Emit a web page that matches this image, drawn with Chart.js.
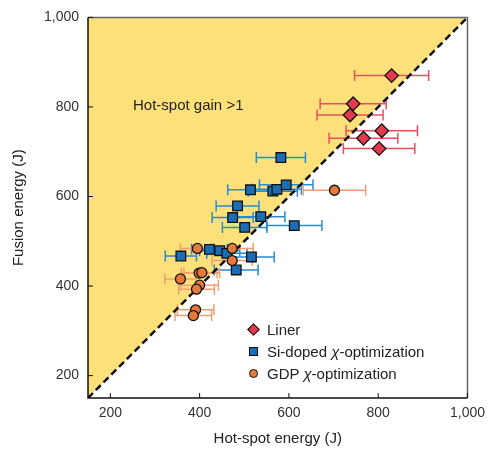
<!DOCTYPE html>
<html>
<head>
<meta charset="utf-8">
<script src="https://cdn.jsdelivr.net/npm/chart.js@4.4.0/dist/chart.umd.min.js"></script>
<style>
    body { margin: 0; background: #fff; font-family: "Liberation Sans", Arial, sans-serif; }
    #wrap { position: relative; width: 492px; height: 452px; }
    #chart { position: absolute; left: 0; top: 0; }
    .note { position: absolute; left: 133px; top: 96px; font-size: 15px; color: #222; }
    .legend { position: absolute; left: 246px; top: 319px; font-size: 15px; color: #222; line-height: 22px; }
    .legend div { position: relative; padding-left: 21px; white-space: nowrap; }
    .mk { position: absolute; box-sizing: border-box; border: 1.2px solid #111; }
    .mk.diamond { left: 3px; top: 6px; width: 9px; height: 9px; background: #e03a4e; transform: rotate(45deg); }
    .mk.square { left: 3px; top: 6px; width: 9px; height: 9px; background: #1b6eb5; }
    .mk.circle { left: 3px; top: 6px; width: 9px; height: 9px; border-radius: 50%; background: #e67a3c; }
</style>
</head>
<body>
<div id="wrap">
    <canvas id="chart" width="492" height="452"></canvas>
    <div class="note">Hot-spot gain &gt;1</div>
    <div class="legend">
        <div><span class="mk diamond"></span>Liner</div>
        <div><span class="mk square"></span>Si-doped <i>χ</i>-optimization</div>
        <div><span class="mk circle"></span>GDP <i>χ</i>-optimization</div>
    </div>
</div>
<script>
// axis range and ticks
const axisMin = 150;
const axisMax = 1000;
const tickValues = [200, 400, 600, 800, 1000];

// Liner shots
const linerX = [830, 744, 737, 808, 767, 802];
const linerY = [870, 807, 782, 747, 730, 707];
const linerErr = [83, 74, 74, 80, 77, 80];

// Si-doped chi-optimization
const siX = [582, 514, 564, 573, 594, 485, 474, 537, 501, 612, 358, 422, 445, 461, 516, 482];
const siY = [687, 615, 612, 616, 626, 579, 553, 555, 531, 535, 467, 482, 479, 473, 465, 436];
const siErr = [55, 51, 55, 55, 60, 48, 46, 54, 50, 62, 35, 40, 45, 45, 51, 49];

// GDP chi-optimization
const gdpX = [702, 395, 473, 473, 399, 405, 357, 400, 393, 391, 386];
const gdpY = [614, 484, 484, 457, 429, 430, 416, 402, 393, 347, 334];
const gdpErr = [70, 38, 47, 45, 40, 40, 35, 42, 40, 41, 41];

const colors = {
    gain: '#fce07a',
    red: '#e03a4e',
    redBar: '#e9505f',
    blue: '#1b6eb5',
    blueBar: '#2a8bcf',
    orange: '#e67a3c',
    orangeBar: '#f0a070',
    text: '#222'
};

const toPoints = (xs, ys) => xs.map((v, i) => ({ x: v, y: ys[i] }));
const diagonal = [{ x: axisMin, y: axisMin }, { x: axisMax, y: axisMax }];

// horizontal error bars, drawn just before the dashed diagonal
const barGroups = [
    { xs: siX, ys: siY, errs: siErr, color: colors.blueBar },
    { xs: gdpX, ys: gdpY, errs: gdpErr, color: colors.orangeBar },
    { xs: linerX, ys: linerY, errs: linerErr, color: colors.redBar }
];

const errorBars = {
    id: 'errorBars',
    beforeDatasetDraw(chart, args) {
        if (chart.data.datasets[args.index].label !== 'diagonal') return;
        const { ctx, scales: { x, y } } = chart;
        ctx.save();
        ctx.lineWidth = 1.5;
        barGroups.forEach(g => {
            ctx.strokeStyle = g.color;
            g.xs.forEach((v, i) => {
                const py = y.getPixelForValue(g.ys[i]);
                const x0 = x.getPixelForValue(v - g.errs[i]);
                const x1 = x.getPixelForValue(v + g.errs[i]);
                ctx.beginPath();
                ctx.moveTo(x0, py); ctx.lineTo(x1, py);
                ctx.moveTo(x0, py - 5.5); ctx.lineTo(x0, py + 5.5);
                ctx.moveTo(x1, py - 5.5); ctx.lineTo(x1, py + 5.5);
                ctx.stroke();
            });
        });
        ctx.restore();
    }
};

// frame with inward ticks
const frame = {
    id: 'frame',
    afterDatasetsDraw(chart) {
        const { ctx, chartArea: a, scales: { x, y } } = chart;
        ctx.save();
        ctx.lineWidth = 1.5;
        ctx.strokeStyle = '#666';
        ctx.beginPath();
        ctx.moveTo(a.left, a.top); ctx.lineTo(a.right, a.top); ctx.lineTo(a.right, a.bottom);
        ctx.stroke();
        ctx.strokeStyle = '#111';
        ctx.beginPath();
        ctx.moveTo(a.left, a.top); ctx.lineTo(a.left, a.bottom); ctx.lineTo(a.right, a.bottom);
        ctx.stroke();
        ctx.lineWidth = 1;
        ctx.beginPath();
        tickValues.forEach(v => {
            const px = x.getPixelForValue(v);
            ctx.moveTo(px, a.bottom); ctx.lineTo(px, a.bottom - 5);
            const py = y.getPixelForValue(v);
            ctx.moveTo(a.left, py); ctx.lineTo(a.left + 5, py);
        });
        ctx.stroke();
        ctx.restore();
    }
};

const tickFont = { family: '"Liberation Sans", Arial, sans-serif', size: 14 };
const titleFont = { family: '"Liberation Sans", Arial, sans-serif', size: 15 };
const setTicks = scale => { scale.ticks = tickValues.map(v => ({ value: v })); };

new Chart(document.getElementById('chart'), {
    type: 'scatter',
    data: {
        datasets: [
            { label: 'Liner', data: toPoints(linerX, linerY), pointStyle: 'rectRot', pointRadius: 6.8,
              backgroundColor: colors.red, borderColor: '#111', borderWidth: 1.3, order: 1 },
            { label: 'GDP', data: toPoints(gdpX, gdpY), pointStyle: 'circle', pointRadius: 5,
              backgroundColor: colors.orange, borderColor: '#111', borderWidth: 1.3, order: 2 },
            { label: 'Si-doped', data: toPoints(siX, siY), pointStyle: 'rect', pointRadius: 6.8,
              backgroundColor: colors.blue, borderColor: '#111', borderWidth: 1.3, order: 3 },
            { label: 'diagonal', data: diagonal, showLine: true, fill: false, borderColor: '#111',
              borderWidth: 2.5, borderDash: [7, 4], pointRadius: 0, order: 5 },
            { label: 'gain', data: diagonal, showLine: true, fill: 'end', backgroundColor: colors.gain,
              borderWidth: 0, pointRadius: 0, order: 10 }
        ]
    },
    options: {
        responsive: false,
        animation: false,
        layout: { padding: { left: 0, right: 22, top: 16, bottom: 0 } },
        plugins: { legend: { display: false }, tooltip: { enabled: false } },
        scales: {
            x: {
                type: 'linear', min: axisMin, max: axisMax,
                afterBuildTicks: setTicks,
                afterFit: s => { s.height = 54; },
                grid: { display: false, drawTicks: false },
                border: { display: false },
                ticks: { font: tickFont, color: '#333', padding: 7, maxRotation: 0,
                         callback: v => v.toLocaleString('en-US') },
                title: { display: true, text: 'Hot-spot energy (J)', font: titleFont, color: colors.text,
                         padding: { top: 0, bottom: 4 } }
            },
            y: {
                type: 'linear', min: axisMin, max: axisMax,
                afterBuildTicks: setTicks,
                afterFit: s => { s.width = 88; },
                grid: { display: false, drawTicks: false },
                border: { display: false },
                ticks: { font: tickFont, color: '#333', padding: 9,
                         callback: v => v.toLocaleString('en-US') },
                title: { display: true, text: 'Fusion energy (J)', font: titleFont, color: colors.text,
                         padding: { top: 10, bottom: 0 } }
            }
        }
    },
    plugins: [errorBars, frame]
});
</script>
</body>
</html>
